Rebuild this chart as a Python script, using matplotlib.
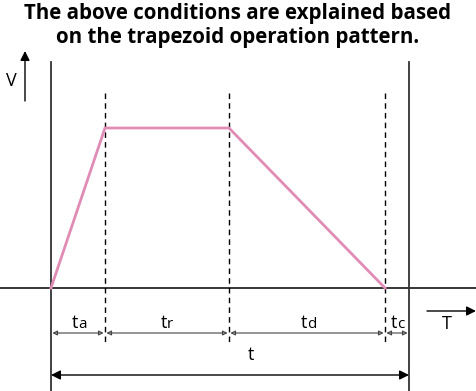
import matplotlib
matplotlib.use('Agg')
import matplotlib.pyplot as plt

# trapezoid operation pattern (pixel-ish units, origin at start of motion)
t_points = [0, 54, 178, 334]          # start, end accel, end run, end decel
v_points = [0, 160, 160, 0]
t_end = 358                           # end of cycle (after tc)
seg_labels = ['a', 'r', 'd', 'c']     # subscripts for t
title_lines = ['The above conditions are explained based',
               'on the trapezoid operation pattern.']

pink = '#e08cb4'
dark = '#333333'

fig = plt.figure(figsize=(4.76, 3.91), dpi=100)
ax = fig.add_axes([0, 0, 1, 1])
ax.set_xlim(-51, 425)
ax.set_ylim(-103, 288)
ax.axis('off')

# title
ax.text(187, 274, title_lines[0], ha='center', va='center', fontsize=14.8,
        fontweight='bold', family='Open Sans')
ax.text(187, 250, title_lines[1], ha='center', va='center', fontsize=14.8,
        fontweight='bold', family='Open Sans')

# frame lines
ax.axhline(0, color='black', lw=1.1)
ax.plot([0, 0], [226, -103], color=dark, lw=1.3)
ax.plot([t_end, t_end], [226, -103], color=dark, lw=1.3)

# dashed markers
for tx in t_points[1:]:
    ax.plot([tx, tx], [195, -57], color='black', lw=1.0, ls=(0, (4, 3)))

# speed profile
ax.plot(t_points, v_points, color=pink, lw=2.0, solid_joinstyle='miter')

# V axis arrow
ax.annotate('', xy=(-26, 237), xytext=(-26, 187),
            arrowprops=dict(arrowstyle='-|>', color='black', lw=1.0,
                            mutation_scale=14, shrinkA=0, shrinkB=0))
ax.text(-40, 207, 'V', ha='center', va='center', fontsize=13, family='Open Sans')

# T axis arrow
ax.annotate('', xy=(425, -23), xytext=(376, -23),
            arrowprops=dict(arrowstyle='-|>', color='black', lw=1.0,
                            mutation_scale=14, shrinkA=0, shrinkB=0))
ax.text(396, -36, 'T', ha='center', va='center', fontsize=13, family='Open Sans')

# segment dimension arrows
bounds = t_points + [t_end]
for i, sub in enumerate(seg_labels):
    x0, x1 = bounds[i], bounds[i + 1]
    ax.annotate('', xy=(x1, -45), xytext=(x0, -45),
                arrowprops=dict(arrowstyle='<|-|>', color='#444444', lw=0.8,
                                mutation_scale=7, shrinkA=1, shrinkB=1,
                                fill=False))
    xc = (x0 + x1) / 2
    ax.text(xc, -40, 't', ha='right', va='baseline', fontsize=13,
            family='Open Sans')
    ax.text(xc, -40, sub, ha='left', va='baseline', fontsize=11,
            family='Open Sans')

# total cycle arrow
ax.annotate('', xy=(t_end, -87), xytext=(0, -87),
            arrowprops=dict(arrowstyle='<|-|>', color='black', lw=1.0,
                            mutation_scale=14, shrinkA=0, shrinkB=0))
ax.text(200, -67, 't', ha='center', va='center', fontsize=13, family='Open Sans')

fig.savefig('out.png', dpi=100)
